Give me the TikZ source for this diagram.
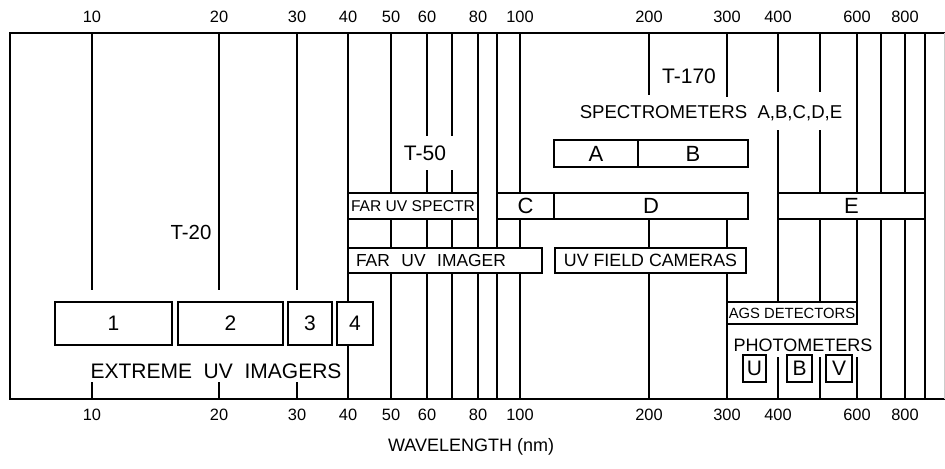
\documentclass[tikz,border=0pt]{standalone}
\usepackage{fontspec}
\setmainfont{Liberation Sans}
\newcommand{\sz}[1]{\fontsize{#1pt}{#1pt}\selectfont}

\begin{document}
\begin{tikzpicture}[
  x=0.5pt, y=-0.5pt,
  gridline/.style={line width=0.65pt},
  frameline/.style={line width=1.2pt},
  band/.style={draw, fill=white, line width=0.9pt, inner sep=0pt, outer sep=0pt,
               anchor=north west},
  scalenum/.style={font=\sz{8.2}, inner sep=0pt},
  tag/.style={inner sep=0pt}
]
\useasboundingbox (0,0) rectangle (945,468);

% grid lines of the log wavelength axis: x / from / to
\foreach \x/\ya/\yb in {92/33/290, 92/382/399, 219/33/290, 219/382/399,
    297/33/290, 297/382/399, 348/33/399, 391/33/399,
    427/33/136, 427/170/399, 452/33/136, 452/170/399,
    478/33/399, 497/33/399, 520/33/399,
    649/33/95, 649/219/399, 727/33/97, 727/219/399,
    778/33/92, 778/130/324, 778/357/399, 820/33/92, 820/130/324, 820/357/399,
    857/33/324, 857/357/399, 881/33/399, 905/33/399, 925/33/399}
  \draw[gridline] (\x,\ya) -- (\x,\yb);

\draw[frameline] (945,33) -- (10,33) -- (10,399) -- (945,399);
\draw[black!20, line width=0.5pt] (944,33) -- (944,399);

\foreach \w/\x in {10/92, 20/219, 30/297, 40/348, 50/391, 60/427, 80/478,
    100/520, 200/649, 300/727, 400/778, 600/857, 800/905} {
  \node[scalenum] (top\w) at (\x,17) {\w};
  \node[scalenum] (bot\w) at (\x,415) {\w};
}

\node[tag, font=\sz{10.5}] (tel170) at (689,76) {T-170};
\node[tag, font=\sz{9.3}] (spectrometers) at (711,113) {SPECTROMETERS~~A,B,C,D,E};
\node[tag, font=\sz{10.5}] (tel50) at (425,153) {T-50};
\node[tag, font=\sz{10.2}] (tel20) at (191,232) {T-20};
\node[tag, font=\sz{10.5}] (extremeuv) at (216,371) {EXTREME~~UV~~IMAGERS};
\node[tag, font=\sz{9}] (photometers) at (803,345) {PHOTOMETERS};
\node[tag, font=\sz{9}] (wavelength) at (471,447) {WAVELENGTH (nm)};

\node[band, font=\sz{11}, minimum width=42pt, minimum height=13.5pt] (specA) at (554,140) {A};
\node[band, font=\sz{11}, minimum width=55pt, minimum height=13.5pt] (specB) at (638,140) {B};
\node[band, font=\sz{11}, minimum width=28.5pt, minimum height=13pt] (specC) at (497,193) {C};
\node[band, font=\sz{11}, minimum width=97pt, minimum height=13pt] (specD) at (554,193) {D};
\node[band, font=\sz{11}, minimum width=73.5pt, minimum height=13pt] (specE) at (778,193) {E};
\node[band, font=\sz{7.8}, minimum width=65pt, minimum height=13pt] (faruvspectr) at (348,193) {FAR UV SPECTR};
\node[band, font=\sz{8.7}, text width=89pt, align=left, minimum width=97pt,
      minimum height=12.5pt] (faruvimager) at (348,248) {FAR~~UV~~IMAGER};
\node[band, font=\sz{8.9}, minimum width=95.5pt, minimum height=12.5pt] (uvfield) at (555,248) {UV~FIELD~CAMERAS};
\node[band, font=\sz{7.4}, minimum width=65pt, minimum height=11pt] (ags) at (727,302) {AGS DETECTORS};

\foreach \n/\xa/\bw in {1/55/58.5pt, 2/178/52.5pt, 3/288/22pt, 4/337/18pt}
  \node[band, font=\sz{10.5}, minimum width=\bw, minimum height=21.5pt] (xuv\n) at (\xa,302) {\n};
\foreach \n/\xa/\bw in {U/743/11.5pt, B/787/12.5pt, V/826/13pt}
  \node[band, font=\sz{10.5}, minimum width=\bw, minimum height=13.5pt] (phot\n) at (\xa,355) {\n};
\end{tikzpicture}
\end{document}
